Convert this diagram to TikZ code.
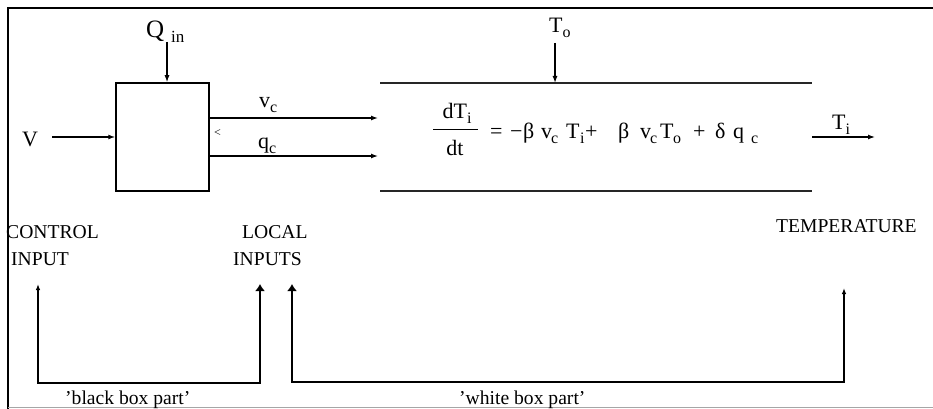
\documentclass[tikz,border=0pt]{standalone}
\usepackage{fontspec}
\setmainfont{Liberation Serif}
\usetikzlibrary{arrows.meta}
\newcommand\fs[1]{\fontsize{#1}{#1}\selectfont}
\newcommand\sbs[1]{\raisebox{-5pt}{\fs{16}#1}}
\newcommand\mb[2]{\makebox[#1pt][l]{#2}}
\newcommand\sq{\char"27\relax}
\tikzset{stip/.tip={Latex[length=6pt,width=4.5pt]},
         btip/.tip={Latex[length=7pt,width=10pt]}}
\begin{document}
\begin{tikzpicture}[x=1pt,y=-1pt,
  arr/.style={line width=1.3pt,-{Latex[length=7pt,width=5pt]}},
  brk/.style={line width=2pt},
  lbl/.style={inner sep=0pt,anchor=base west,font=\fs{19.6}},
  lblc/.style={inner sep=0pt,anchor=base,font=\fs{22}}]
\useasboundingbox (0,0) rectangle (933,409);
% frame
\draw[line width=2.5pt] (8,409) -- (8,8) -- (933,8);
\draw[black!35,line width=1pt] (8,407.5) -- (933,407.5);
% black box
\node[draw,line width=1.5pt,minimum width=93pt,minimum height=108pt,inner sep=0pt] (box) at (162.5,137) {};
% Q_in
\node[lbl,font=\fs{25}] (Q) at (146,38) {Q};
\node[lbl,font=\fs{17}] (Qin) at (171,43) {in};
\coordinate (qs) at (167,42);
\draw[arr] (qs) -- (qs |- box.north);
% V
\node[lbl,font=\fs{22}] (V) at (22,146) {V};
\coordinate (vs) at (52,137);
\draw[arr] (vs) -- (box.west);
% v_c, q_c
\coordinate (vcE) at (378,118);
\coordinate (qcE) at (378,156);
\draw[arr] (box.east |- vcE) -- (vcE);
\draw[arr] (box.east |- qcE) -- (qcE);
\node[lbl,font=\fs{22}] (vc) at (259,108) {v\sbs{c}};
\node[lbl,font=\fs{22}] (qc) at (258,148) {q\sbs{c}};
\node[lbl,font=\fs{12}] (lt) at (214,136) {<};
% channel
\coordinate (cA) at (380,83);
\coordinate (cB) at (812,83);
\coordinate (cC) at (380,191);
\coordinate (cD) at (812,191);
\draw[line width=1.2pt,black!85] (cA) -- (cB);
\draw[line width=1.2pt,black!85] (cC) -- (cD);
% T_o
\node[lbl,font=\fs{22}] (To) at (549,33) {T\sbs{o}};
\coordinate (tos) at (555,43);
\draw[arr] (tos) -- (tos |- cA);
% equation
\node[lblc] (num) at (457,118) {dT\sbs{i}};
\node[lblc] (den) at (455,155) {dt};
\coordinate (fy) at (0,129);
\coordinate (fl) at (433,0);
\coordinate (fr) at (478,0);
\draw[line width=1pt] (fl |- fy) -- (fr |- fy);
\node[lbl,font=\fs{22}] (eq) at (490,139) {\mb{20}{=}\mb{13}{−}\mb{18}{β}\mb{10}{v}\mb{15}{\sbs{c}}\mb{14}{T}\mb{5}{\sbs{i}}\mb{33}{+}\mb{22}{β}\mb{10}{v}\mb{10}{\sbs{c}}\mb{13}{T}\mb{20}{\sbs{o}}\mb{22}{+}\mb{18}{δ}\mb{18}{q}\mb{10}{\sbs{c}}};
% T_i output
\coordinate (tis) at (812,137);
\coordinate (tie) at (875,137);
\draw[arr] (tis) -- (tie);
\node[lbl,font=\fs{22}] (Ti) at (832,129) {T\sbs{i}};
% labels
\node[lbl] (ctl1) at (6,238) {CONTROL};
\node[lbl] (ctl2) at (11,265) {INPUT};
\node[lbl] (loc1) at (242,238) {LOCAL};
\node[lbl] (loc2) at (233,265) {INPUTS};
\node[lbl] (temp) at (776,232) {TEMPERATURE};
\node[lbl] (bbp) at (65,404) {\sq black box part\sq};
\node[lbl] (wbp) at (459,404) {\sq white box part\sq};
% brackets
\coordinate (b1) at (38,284);
\coordinate (b2) at (260,284);
\coordinate (b3) at (292,284);
\coordinate (b4) at (844,288);
\coordinate (bl) at (0,383);
\coordinate (br) at (0,382);
\draw[brk,{stip}-{btip}] (b1) -- (b1 |- bl) -- (b2 |- bl) -- (b2);
\draw[brk,{btip}-{stip}] (b3) -- (b3 |- br) -- (b4 |- br) -- (b4);
\end{tikzpicture}
\end{document}
